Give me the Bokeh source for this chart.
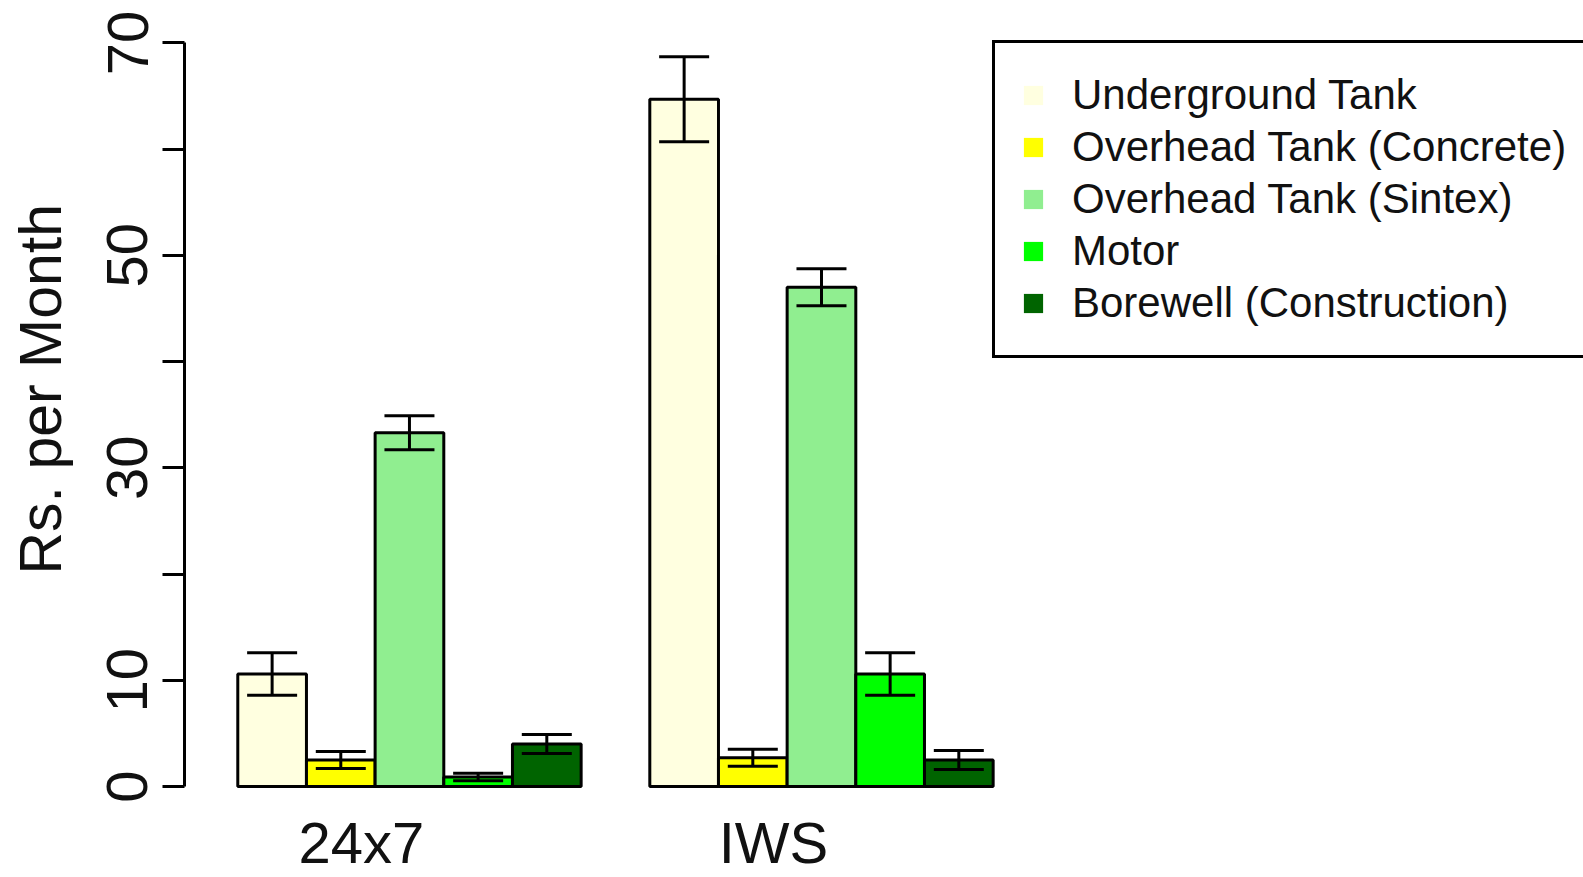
from bokeh.plotting import figure
from bokeh.models import (Range1d, FixedTicker, Whisker, TeeHead, ColumnDataSource,
                          Legend, LegendItem, Title)
from bokeh.core.properties import value
from bokeh.embed import file_html
from bokeh.resources import INLINE

# ---------------- data ----------------
categories = ["24x7", "IWS"]
series = ["Underground Tank", "Overhead Tank (Concrete)", "Overhead Tank (Sintex)",
          "Motor", "Borewell (Construction)"]
means_24x7 = [10.6, 2.5, 33.3, 0.9, 4.0]
errors_24x7 = [2.0, 0.8, 1.6, 0.35, 0.9]
means_iws = [64.7, 2.7, 47.0, 10.6, 2.5]
errors_iws = [4.0, 0.8, 1.75, 2.0, 0.9]
colors = ["#FFFFE0", "#FFFF00", "#90EE90", "#00FF00", "#006400"]
y_ticks = [0, 10, 20, 30, 40, 50, 60, 70]
y_hidden_labels = [20, 40, 60]
y_label = "Rs. per Month"

FONT = "Liberation Sans"
INK = "#111111"

means = [means_24x7, means_iws]
errors = [errors_24x7, errors_iws]
n = len(series)
group_step = n + 1

p = figure(width=1583, height=877, output_backend="svg", toolbar_location=None,
           x_range=Range1d(-0.776, 19.597), y_range=Range1d(-8.566, 73.99),
           x_axis_location=None, y_axis_location="left",
           min_border_left=184, min_border_right=0, min_border_top=0, min_border_bottom=0)
p.outline_line_color = None
p.grid.visible = False
p.background_fill_color = "white"
p.border_fill_color = "white"

# bars
for i, name in enumerate(series):
    xs = [g * group_step + i + 0.5 for g in range(len(categories))]
    tops = [means[g][i] for g in range(len(categories))]
    p.vbar(x=xs, top=tops, bottom=0, width=1, fill_color=colors[i],
           line_color="black", line_width=3)

# error bars
base, upper, lower = [], [], []
for g in range(len(categories)):
    for i in range(n):
        base.append(g * group_step + i + 0.5)
        upper.append(means[g][i] + errors[g][i])
        lower.append(means[g][i] - errors[g][i])
err_src = ColumnDataSource(dict(base=base, upper=upper, lower=lower))
whisk = Whisker(source=err_src, base="base", upper="upper", lower="lower",
                line_color="black", line_width=3, level="overlay",
                upper_head=TeeHead(size=50, line_color="black", line_width=3),
                lower_head=TeeHead(size=50, line_color="black", line_width=3))
p.add_layout(whisk)

# group names
label_x = [g * group_step + 1.8 for g in range(len(categories))]
p.text(x=label_x, y=[-5.3] * len(categories), text=categories,
       text_font=value(FONT), text_font_size="58px", text_color=INK,
       text_align="center", text_baseline="alphabetic")

# y axis
ax = p.yaxis[0]
ax.ticker = FixedTicker(ticks=y_ticks)
ax.major_label_overrides = {t: "" for t in y_hidden_labels}
ax.bounds = (y_ticks[0], y_ticks[-1])
ax.major_tick_out = 22
ax.major_tick_in = 0
ax.minor_tick_line_color = None
ax.axis_line_width = 3
ax.axis_line_color = "black"
ax.major_tick_line_width = 3
ax.major_tick_line_color = "black"
ax.major_label_orientation = "parallel"
ax.major_label_text_font = FONT
ax.major_label_text_font_size = "58px"
ax.major_label_text_color = INK
ax.major_label_standoff = 15
# spacer so that the axis title sits further out, as in the original
ax.axis_label = " "
ax.axis_label_text_font_size = "1px"
ax.axis_label_standoff = 27

# y axis title (positioned along the axis like the original)
ytitle = Title(text=y_label, align="left", offset=303, text_font=FONT,
               text_font_size="59px", text_font_style="normal", text_color=INK,
               standoff=0)
p.add_layout(ytitle, "left")

# legend (filled squares, no outline) - zero-width twins of the bars
items = []
for i, name in enumerate(series):
    xs = [g * group_step + i + 0.5 for g in range(len(categories))]
    tops = [means[g][i] for g in range(len(categories))]
    r = p.vbar(x=xs, top=tops, bottom=0, width=0, fill_color=colors[i], line_color=None)
    items.append(LegendItem(label=name, renderers=[r]))
legend = Legend(items=items, location=(808, 519), orientation="vertical",
                glyph_width=24, glyph_height=24, label_height=52, spacing=0,
                padding=26, margin=0, label_standoff=27,
                border_line_color="black", border_line_width=3, border_line_alpha=1.0,
                background_fill_color="white", background_fill_alpha=1.0,
                label_text_font=FONT, label_text_font_size="42px",
                label_text_color=INK)
p.add_layout(legend)

open("out.html", "w").write(file_html(p, INLINE))
